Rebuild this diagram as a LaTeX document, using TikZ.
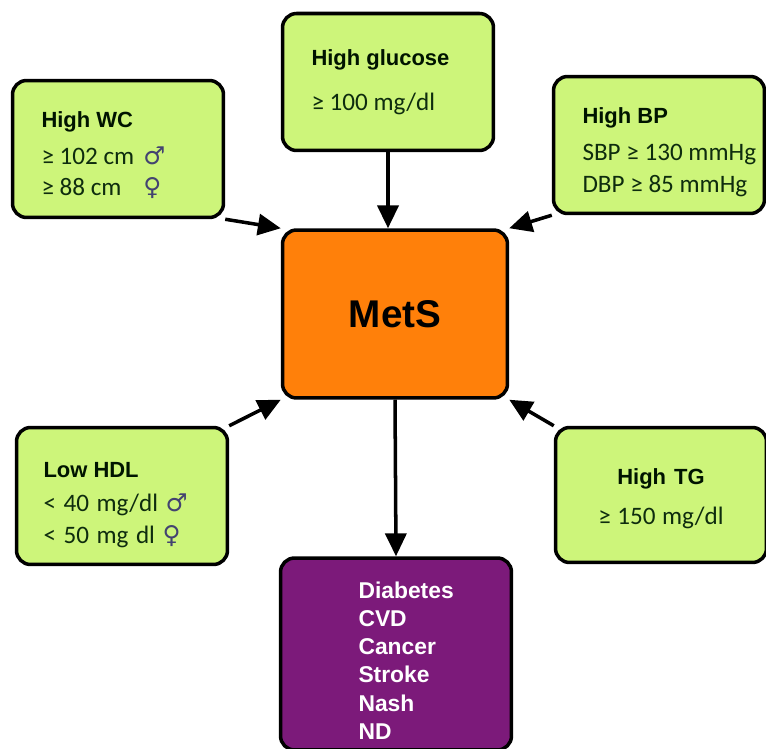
\documentclass[tikz,border=0pt]{standalone}
\usepackage{fontspec}
\setmainfont{Liberation Sans}
\newfontfamily\bodyfont{Carlito}
\newfontfamily\symfont{DejaVu Sans}
\usetikzlibrary{arrows.meta}
\definecolor{limefill}{RGB}{205,245,122}
\definecolor{metsorange}{RGB}{255,128,10}
\definecolor{outpurple}{RGB}{124,26,122}
\definecolor{darkgreen}{RGB}{14,44,14}
\newcommand{\crithead}[2][0pt]{{\rmfamily\bfseries\fontsize{12.5}{18}\selectfont\color{black!92!green}\rule{0pt}{#1}#2}}
\newcommand{\sexsym}[1]{{\symfont\fontsize{14}{18}\selectfont\color{gray!75!blue!70!black}#1}}
\tikzset{
  critbox/.style={draw, line width=2pt, rounded corners=8pt, fill=limefill,
    minimum width=4.22cm, minimum height=2.74cm, inner xsep=0.58cm, text width=3.06cm,
    align=left, text=darkgreen, font=\bodyfont\fontsize{14.3}{18}\selectfont,
    execute at begin node={\spaceskip=0pt\relax\xspaceskip=0pt\relax}},
  arr/.style={line width=2pt, -{Triangle[length=13pt,width=12pt]}},
}
\begin{document}
\begin{tikzpicture}[x=0.02cm, y=-0.02cm]
\useasboundingbox[fill=white] (0,0) rectangle (766,749);
\node[critbox] (glu) at (388,82) {\crithead{High glucose}\\[7.5pt]≥ 100 mg/dl};
\node[critbox] (wc) at (118,149) {\crithead[16pt]{High WC}\\[3pt]\makebox[2.04cm][l]{≥ 102 cm}\sexsym{♂}\\\makebox[2.04cm][l]{≥ 88 cm}\sexsym{♀}};
\node[critbox] (bp) at (659,145) {\crithead[17pt]{High BP}\\[3pt]\mbox{SBP ≥ 130 mmHg}\\\mbox{DBP ≥ 85 mmHg}};
\node[critbox, fill=metsorange, minimum width=4.5cm, minimum height=3.36cm, text width=,
  align=center, font=\bfseries\fontsize{22}{26}\selectfont, text=black] (mets) at (395,314) {MetS};
\node[critbox, inner xsep=0.54cm, text width=3.14cm] (hdl) at (122,496)
  {\crithead[19pt]{Low HDL}\\[1.5pt]\mbox{\spaceskip=0.3em\relax < 40 mg/dl \sexsym{♂}}\\\mbox{\spaceskip=0.3em\relax < 50 mg dl \sexsym{♀}}};
\node[critbox, align=center, minimum width=4.18cm, minimum height=2.7cm] (tg) at (661,495) {\crithead[13.5pt]{High TG}\\[5pt]≥ 150 mg/dl};
\node[critbox, fill=outpurple, minimum width=4.62cm, minimum height=3.84cm, inner xsep=1.56cm,
  text width=1.5cm, text=white, font=\bfseries\fontsize{13}{16}\selectfont] (out) at (396,654)
  {\rule{0pt}{17pt}Diabetes\\CVD\\Cancer\\Stroke\\Nash\\ND};
\draw[arr] (glu.south) -- (glu.south |- mets.north);
\draw[arr] (wc.south east) -- (mets.north west);
\draw[arr] (bp.south west) -- (mets.north east);
\draw[arr] (hdl.north east) -- (mets.south west);
\draw[arr] (tg.north west) -- (mets.south east);
\draw[arr] (mets.south) -- (out.north);
\end{tikzpicture}
\end{document}
